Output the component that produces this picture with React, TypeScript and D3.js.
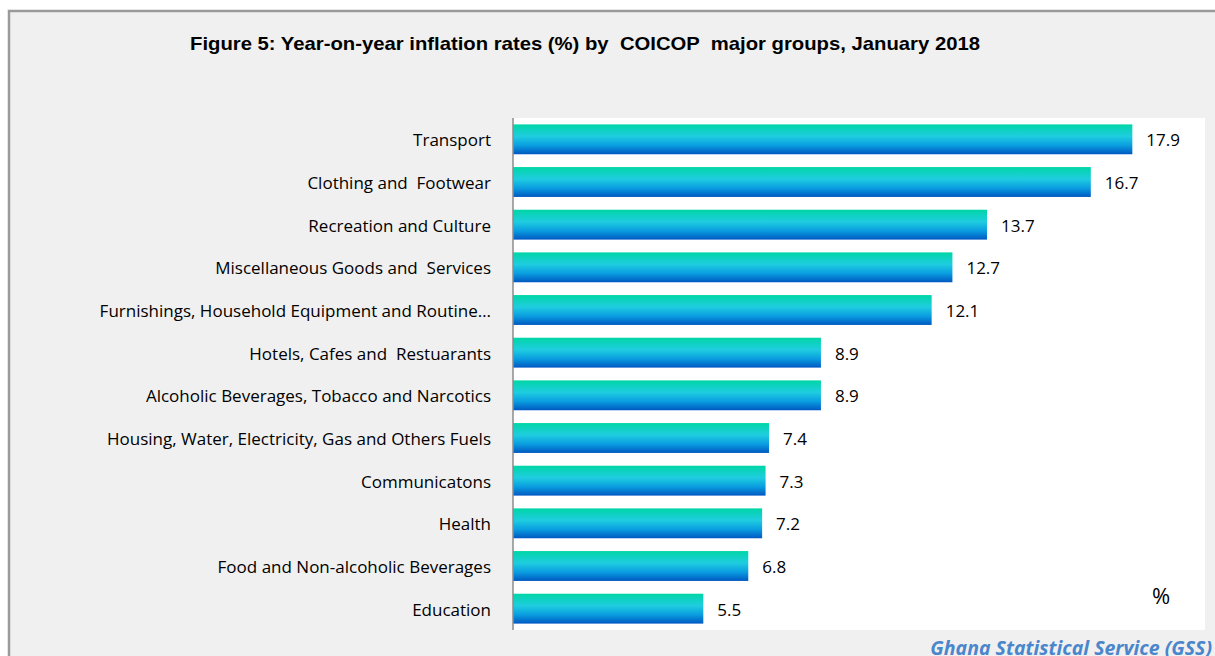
import React from "react";
import * as d3 from "d3";

const categories = [
  "Transport",
  "Clothing and  Footwear",
  "Recreation and Culture",
  "Miscellaneous Goods and  Services",
  "Furnishings, Household Equipment and Routine…",
  "Hotels, Cafes and  Restuarants",
  "Alcoholic Beverages, Tobacco and Narcotics",
  "Housing, Water, Electricity, Gas and Others Fuels",
  "Communicatons",
  "Health",
  "Food and Non-alcoholic Beverages",
  "Education",
];
const values = [17.9, 16.7, 13.7, 12.7, 12.1, 8.9, 8.9, 7.4, 7.3, 7.2, 6.8, 5.5];

const W = 1215;
const H = 656;
const plot = { left: 513, right: 1205, top: 118, bottom: 630 };

export default function App() {
  const x = d3.scaleLinear().domain([0, 20]).range([plot.left, plot.right]);
  const y = d3
    .scaleBand<string>()
    .domain(categories)
    .range([plot.top, plot.bottom])
    .paddingInner(0.3)
    .paddingOuter(0.15);
  const labelFont = "'Open Sans', 'Noto Sans', sans-serif";
  return (
    <svg
      width={W}
      height={H}
      style={{ position: "absolute", left: 0, top: 0, display: "block" }}
    >
      <defs>
        <linearGradient id="barGrad" x1="0" y1="0" x2="0" y2="1">
          <stop offset="0%" stopColor="#00d6a6" />
          <stop offset="40%" stopColor="#1fcde0" />
          <stop offset="70%" stopColor="#0a9ee0" />
          <stop offset="100%" stopColor="#0058c2" />
        </linearGradient>
      </defs>
      <rect x={0} y={0} width={W} height={H} fill="#ffffff" />
      <rect x={9} y={11} width={W + 20} height={H + 20} fill="#f0f0f0" stroke="#9a9a9a" strokeWidth={2.5} />
      <rect
        x={plot.left}
        y={plot.top}
        width={plot.right - plot.left}
        height={plot.bottom - plot.top}
        fill="#ffffff"
      />
      <text
        x={585}
        y={50}
        textAnchor="middle"
        fontFamily="'Liberation Sans', Arial, sans-serif"
        fontWeight="bold"
        fontSize={18.5}
        textLength={790}
        lengthAdjust="spacingAndGlyphs"
        fill="#000"
        style={{ whiteSpace: "pre" }}
      >
        Figure 5: Year-on-year inflation rates (%) by  COICOP  major groups, January 2018
      </text>
      {categories.map((c, i) => {
        const yy = y(c)!;
        const bw = y.bandwidth();
        return (
          <g key={c}>
            <rect
              x={x(0)}
              y={yy}
              width={x(values[i]) - x(0)}
              height={bw}
              fill="url(#barGrad)"
            />
            <text
              x={491}
              y={yy + bw / 2 + 1}
              dy="0.35em"
              textAnchor="end"
              fontFamily={labelFont}
              fontSize={17}
              fill="#000"
              style={{ whiteSpace: "pre" }}
            >
              {c}
            </text>
            <text
              x={x(values[i]) + 14}
              y={yy + bw / 2 + 1}
              dy="0.35em"
              fontFamily={labelFont}
              fontSize={17}
              fill="#000"
            >
              {values[i].toFixed(1)}
            </text>
          </g>
        );
      })}
      <line
        x1={plot.left}
        x2={plot.left}
        y1={plot.top}
        y2={plot.bottom}
        stroke="#8c8c8c"
        strokeWidth={1.5}
      />
      <text
        x={1161}
        y={596}
        dy="0.35em"
        textAnchor="middle"
        fontFamily={labelFont}
        fontSize={22}
        fill="#000"
      >
        %
      </text>
      <text
        x={1212}
        y={655}
        textAnchor="end"
        fontFamily={labelFont}
        fontStyle="italic"
        fontWeight="bold"
        fontSize={19.5}
        fill="#4a86cc"
      >
        Ghana Statistical Service (GSS)
      </text>
    </svg>
  );
}
